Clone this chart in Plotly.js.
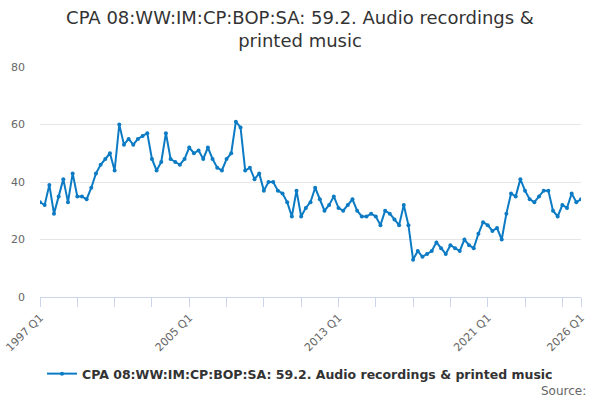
<!DOCTYPE html>
<html>
<head>
<meta charset="utf-8">
<script src="https://cdn.plot.ly/plotly-3.0.1.min.js"></script>
<style>
  html, body { margin: 0; padding: 0; background: #fff; }
  #chart { width: 600px; height: 400px; }
</style>
</head>
<body>
<div id="chart"></div>
<script>
// quarters from 1997 Q1 to 2026 Q1
const startYear = 1997
const endYear = 2026
const quarters = []
for (let y = startYear; y <= endYear; y++) {
    for (let q = 1; q <= 4; q++) {
        if (y === endYear && q > 1) break
        quarters.push(y + " Q" + q)
    }
}

const values = [
    33, 32, 39, 29, 35, 41, 33, 43, 35, 35, 34, 38, 43, 46, 48, 50,
    44, 60, 53, 55, 53, 55, 56, 57, 48, 44, 47, 57, 48, 47, 46, 48,
    52, 50, 51, 48, 52, 48, 45, 44, 48, 50, 61, 59, 44, 45, 41, 43,
    37, 40, 40, 37, 36, 33, 28, 37, 28, 31, 33, 38, 34, 30, 32, 35,
    31, 30, 32, 34, 30, 28, 28, 29, 28, 25, 30, 29, 27, 25, 32, 25,
    13, 16, 14, 15, 16, 19, 17, 15, 18, 17, 16, 20, 18, 17, 22, 26,
    25, 23, 24, 20, 29, 36, 35, 41, 37, 34, 33, 35, 37, 37, 30, 28,
    32, 31, 36, 33, 34
]

const seriesName = "CPA 08:WW:IM:CP:BOP:SA: 59.2. Audio recordings & printed music"
const titleText = "CPA 08:WW:IM:CP:BOP:SA: 59.2. Audio recordings &amp;<br>printed music"

// ticks every two years, labels every eight, plus the last quarter
const labelled = ["1997 Q1", "2005 Q1", "2013 Q1", "2021 Q1", "2026 Q1"]
const tickVals = quarters.filter((q, i) => i % 8 === 0)
tickVals.push(quarters[quarters.length - 1])
const tickText = tickVals.map(q => labelled.includes(q) ? q : "")

const trace = {
    x: quarters,
    y: values,
    type: "scatter",
    mode: "lines+markers",
    name: seriesName,
    line: { color: "#0c7bc4", width: 2 },
    marker: { color: "#0c7bc4", size: 4 }
}

const layout = {
    width: 600,
    height: 400,
    margin: { l: 40, r: 19, t: 67, b: 103 },
    paper_bgcolor: "#fff",
    plot_bgcolor: "#fff",
    font: { family: "DejaVu Sans, sans-serif", color: "#666" },
    title: {
        text: titleText,
        font: { size: 18, color: "#333" },
        x: 0.5,
        xanchor: "center",
        yref: "container",
        y: 0.94,
        yanchor: "middle"
    },
    xaxis: {
        type: "category",
        range: [0, quarters.length - 1],
        tickmode: "array",
        tickvals: tickVals,
        ticktext: tickText,
        tickangle: -45,
        ticks: "outside",
        ticklen: 9,
        tickcolor: "#ccd6eb",
        showline: true,
        linecolor: "#ccd6eb",
        linewidth: 1,
        showgrid: false,
        zeroline: false,
        tickfont: { size: 11, color: "#666" }
    },
    yaxis: {
        range: [0, 80],
        tickvals: [0, 20, 40, 60, 80],
        gridcolor: "#e6e6e6",
        zeroline: false,
        showline: false,
        ticks: "",
        ticklabelstandoff: 14,
        tickfont: { size: 11, color: "#666" }
    },
    showlegend: true,
    legend: {
        orientation: "h",
        x: 0.5,
        xref: "container",
        xanchor: "center",
        yref: "container",
        y: 0.065,
        yanchor: "middle",
        font: { size: 12.5, color: "#333", weight: "bold" }
    },
    annotations: [
        {
            text: "Source:",
            xref: "paper",
            yref: "paper",
            x: 1.013,
            xanchor: "right",
            y: -0.41,
            yanchor: "middle",
            showarrow: false,
            font: { size: 12, color: "#666" }
        }
    ]
}

Plotly.newPlot("chart", [trace], layout, { displayModeBar: false, staticPlot: true })
</script>
</body>
</html>
